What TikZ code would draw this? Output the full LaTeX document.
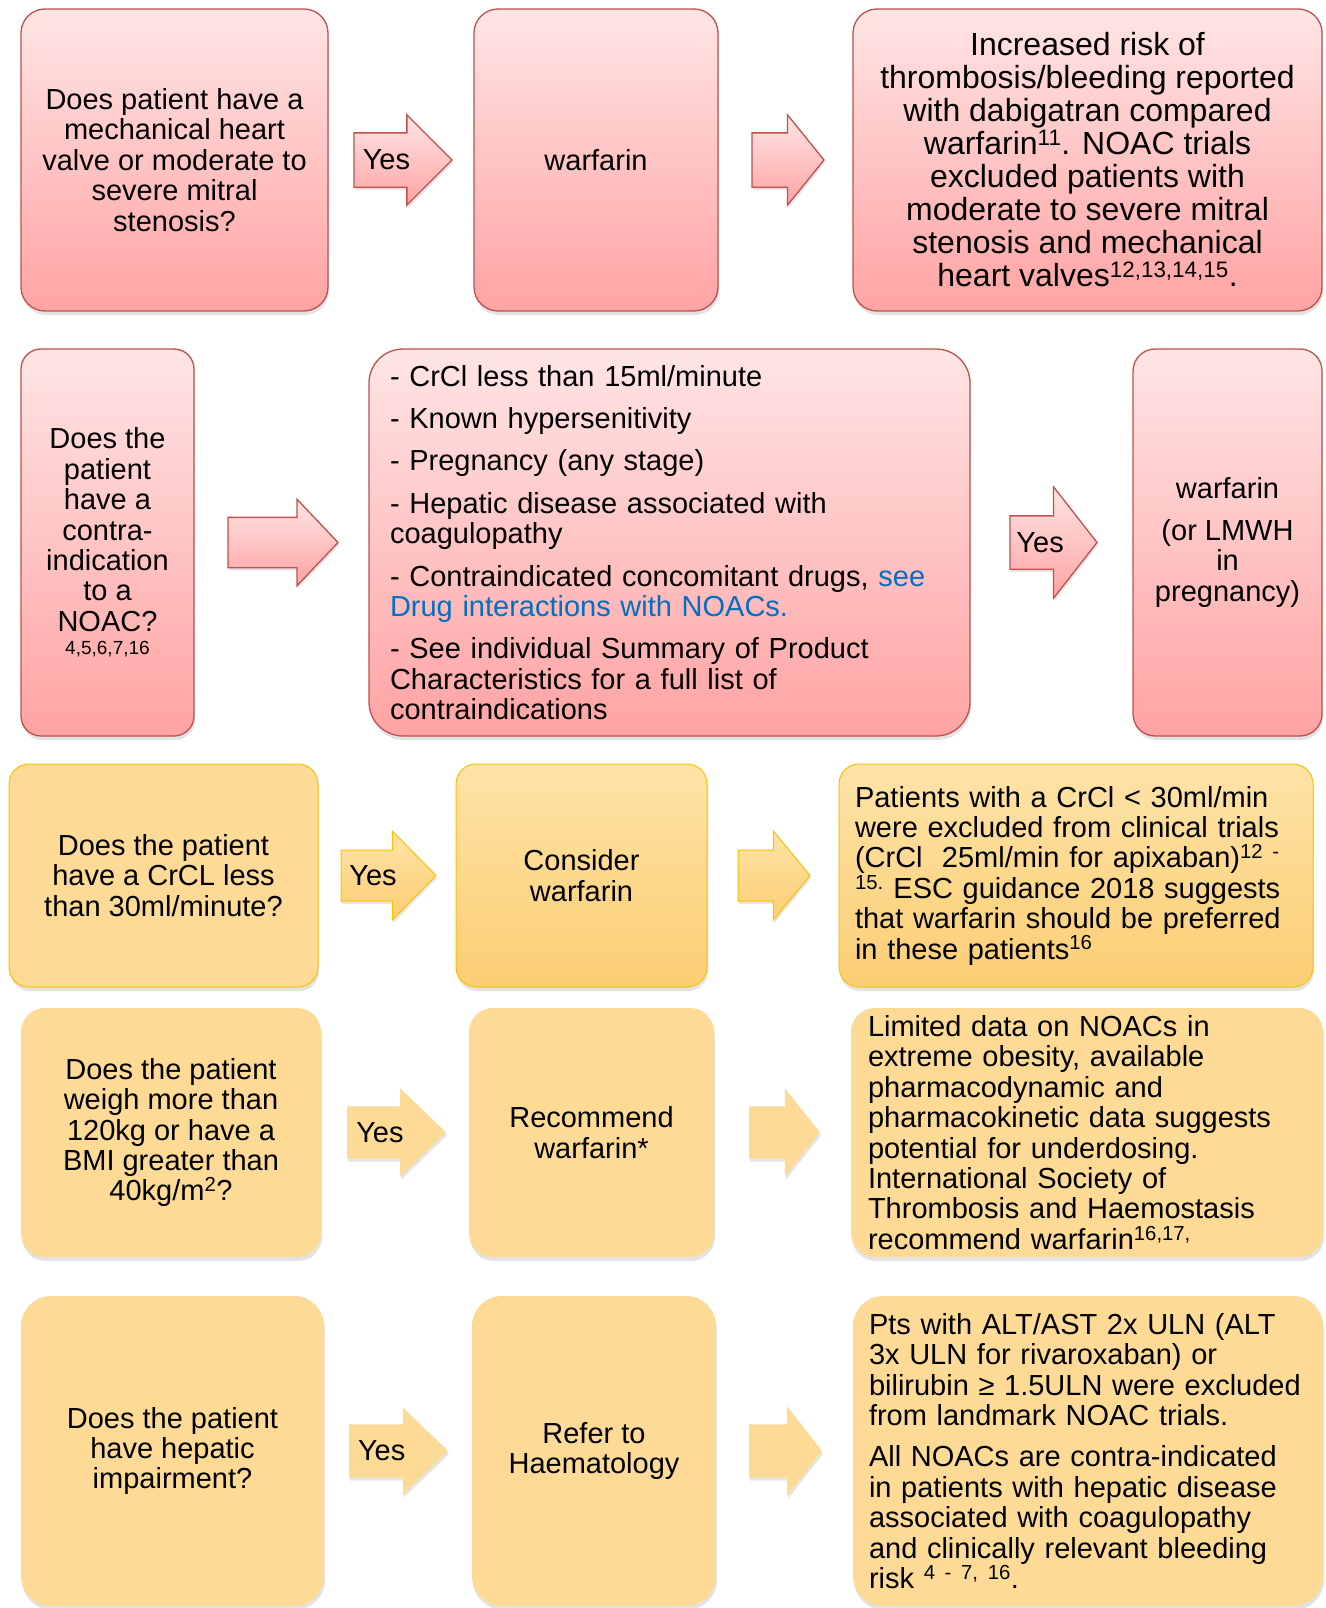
\documentclass[tikz,border=0pt]{standalone}
\usepackage{fontspec}
\setmainfont{Liberation Sans}
\usepackage{xcolor}
\usetikzlibrary{shapes,shadows,positioning,calc}

\definecolor{redline}{RGB}{192,80,77}
\definecolor{redtop}{RGB}{255,229,229}
\definecolor{redbot}{RGB}{255,163,163}
\definecolor{ambfill}{RGB}{253,219,150}
\definecolor{ambtop}{RGB}{254,227,168}
\definecolor{ambbot}{RGB}{251,206,115}
\definecolor{ambline}{RGB}{255,192,0}
\definecolor{linkblue}{RGB}{0,112,192}

\newcommand{\boxfont}{\fontsize{29}{30.4}\selectfont}
\newcommand{\bigboxfont}{\fontsize{32}{33}\selectfont}

\begin{document}
\begin{tikzpicture}[
    x=1pt, y=-1pt,
    card/.style={rectangle, rounded corners=24pt, align=center, inner xsep=8pt, inner ysep=3pt, outer sep=0pt, font=\boxfont, drop shadow={shadow xshift=1pt, shadow yshift=-4pt, opacity=0.22}},
    redcard/.style={card, draw=redline, line width=1.3pt, top color=redtop, bottom color=redbot},
    ambcard/.style={card, fill=ambfill},
    rimcard/.style={card, draw=ambline, line width=1pt, fill=ambfill},
    shadecard/.style={card, draw=ambline, line width=1pt, top color=ambtop, bottom color=ambbot},
    notecard/.style={align=left},
    flow/.style={single arrow, single arrow head extend=18pt, text height=20pt, text depth=0pt, inner xsep=0pt, inner ysep=16.5pt, outer sep=0pt, drop shadow={shadow xshift=1pt, shadow yshift=-3pt, opacity=0.2}},
    yesflow/.style={flow, minimum height=98pt, single arrow tip angle=90, label={[font=\boxfont, xshift=-3pt]center:Yes}},
    gapflow/.style={flow, minimum height=72pt, single arrow tip angle=102},
    redflow/.style={draw=redline, line width=1.3pt, top color=redtop, bottom color=redbot},
    goldflow/.style={draw=ambline, line width=1pt, top color=ambtop, bottom color=ambbot},
    plainflow/.style={fill=ambfill}
]
    \useasboundingbox[fill=white] (0,0) rectangle (1325,1608);

    % valves
    \node[redcard, minimum width=307pt, minimum height=302pt, anchor=north west] (valveQ) at (21,9) {Does patient have a\\mechanical heart\\valve or moderate to\\severe mitral\\stenosis?};
    \node[yesflow, redflow, right=26pt of valveQ] (valveYes) {};
    \node[redcard, minimum width=244pt, minimum height=302pt, right=22pt of valveYes] (valveDrug) {warfarin};
    \node[gapflow, redflow, right=34pt of valveDrug] (valveNext) {};
    \node[redcard, minimum width=469pt, minimum height=302pt, font=\bigboxfont, right=29pt of valveNext] (valveNote) {Increased risk of\\thrombosis/bleeding reported\\with dabigatran compared\\warfarin\textsuperscript{11}. NOAC trials\\excluded patients with\\moderate to severe mitral\\stenosis and mechanical\\heart valves\textsuperscript{12,13,14,15}.};

    % contraindications
    \node[redcard, minimum width=173pt, minimum height=387pt, rounded corners=20pt, anchor=north west] (contraQ) at (21,349) {Does the\\patient\\have a\\contra-\\indication\\to a\\NOAC?\\[-7pt]{\fontsize{19}{20}\selectfont 4,5,6,7,16}};
    \node[flow, redflow, minimum height=110pt, inner ysep=14.5pt, single arrow tip angle=93, right=34pt of contraQ] (contraNext) {};
    \node[redcard, notecard, text width=559pt, inner xsep=21pt, minimum height=387pt, rounded corners=34pt, right=31pt of contraNext] (contraList) {- CrCl less than 15ml/minute\\[12pt]- Known hypersenitivity\\[12pt]- Pregnancy (any stage)\\[12pt]- Hepatic disease associated with\\coagulopathy\\[12pt]- Contraindicated concomitant drugs, {\color{linkblue}see}\\{\color{linkblue}Drug interactions with NOACs.}\\[12pt]- See individual Summary of Product\\Characteristics for a full list of\\contraindications};
    \node[flow, redflow, minimum height=87pt, inner ysep=16pt, single arrow head extend=29pt, single arrow tip angle=104, label={[font=\boxfont, xshift=-3pt]center:Yes}, right=40pt of contraList] (contraYes) {};
    \node[redcard, minimum width=189pt, minimum height=387pt, rounded corners=22pt, right=36pt of contraYes] (contraDrug) {warfarin\\[11pt](or LMWH\\in\\pregnancy)};

    % renal function
    \node[rimcard, minimum width=309pt, minimum height=223pt, rounded corners=20pt, anchor=north west] (crclQ) at (9,764) {Does the patient\\have a CrCL less\\than 30ml/minute?};
    \node[yesflow, goldflow, minimum height=95pt, inner ysep=15pt, single arrow head extend=19pt, single arrow tip angle=91, right=23pt of crclQ] (crclYes) {};
    \node[shadecard, minimum width=251pt, minimum height=223pt, rounded corners=20pt, right=20pt of crclYes] (crclDrug) {Consider\\warfarin};
    \node[gapflow, goldflow, inner ysep=15pt, single arrow head extend=19pt, single arrow tip angle=101, right=31pt of crclDrug] (crclNext) {};
    \node[shadecard, notecard, text width=442pt, inner xsep=16pt, minimum height=223pt, rounded corners=20pt, right=29pt of crclNext] (crclNote) {Patients with a CrCl < 30ml/min\\were excluded from clinical trials\\(CrCl\ \ 25ml/min for apixaban)\textsuperscript{12 -}\\\textsuperscript{15.} ESC guidance 2018 suggests\\that warfarin should be preferred\\in these patients\textsuperscript{16}};

    % weight
    \node[ambcard, minimum width=300pt, minimum height=249pt, anchor=north west] (bmiQ) at (21,1008) {Does the patient\\weigh more than\\120kg or have a\\BMI greater than\\40kg/m\textsuperscript{2}?};
    \node[yesflow, plainflow, minimum height=99pt, inner ysep=16pt, single arrow tip angle=88, right=26pt of bmiQ] (bmiYes) {};
    \node[ambcard, minimum width=245pt, minimum height=249pt, right=23pt of bmiYes] (bmiDrug) {Recommend\\warfarin*};
    \node[gapflow, plainflow, minimum height=71pt, inner ysep=16pt, single arrow tip angle=103, right=35pt of bmiDrug] (bmiNext) {};
    \node[ambcard, notecard, text width=438pt, inner xsep=17pt, minimum height=249pt, right=31pt of bmiNext] (bmiNote) {Limited data on NOACs in\\extreme obesity, available\\pharmacodynamic and\\pharmacokinetic data suggests\\potential for underdosing.\\International Society of\\Thrombosis and Haemostasis\\recommend warfarin\textsuperscript{16,17,}};

    % liver
    \node[ambcard, minimum width=303pt, minimum height=310pt, rounded corners=30pt, anchor=north west] (liverQ) at (21,1296) {Does the patient\\have hepatic\\impairment?};
    \node[yesflow, plainflow, minimum height=99pt, single arrow head extend=17pt, single arrow tip angle=88, right=25pt of liverQ] (liverYes) {};
    \node[ambcard, minimum width=244pt, minimum height=310pt, rounded corners=30pt, right=24pt of liverYes] (liverDrug) {Refer to\\Haematology};
    \node[gapflow, plainflow, minimum height=73pt, single arrow tip angle=104, right=33pt of liverDrug] (liverNext) {};
    \node[ambcard, notecard, text width=438pt, inner xsep=16pt, minimum height=310pt, rounded corners=30pt, right=31pt of liverNext] (liverNote) {Pts with ALT/AST 2x ULN (ALT\\3x ULN for rivaroxaban) or\\bilirubin ≥ 1.5ULN were excluded\\from landmark NOAC trials.\\[11pt]All NOACs are contra-indicated\\in patients with hepatic disease\\associated with coagulopathy\\and clinically relevant bleeding\\risk \textsuperscript{4 - 7, 16}.};
\end{tikzpicture}
\end{document}
